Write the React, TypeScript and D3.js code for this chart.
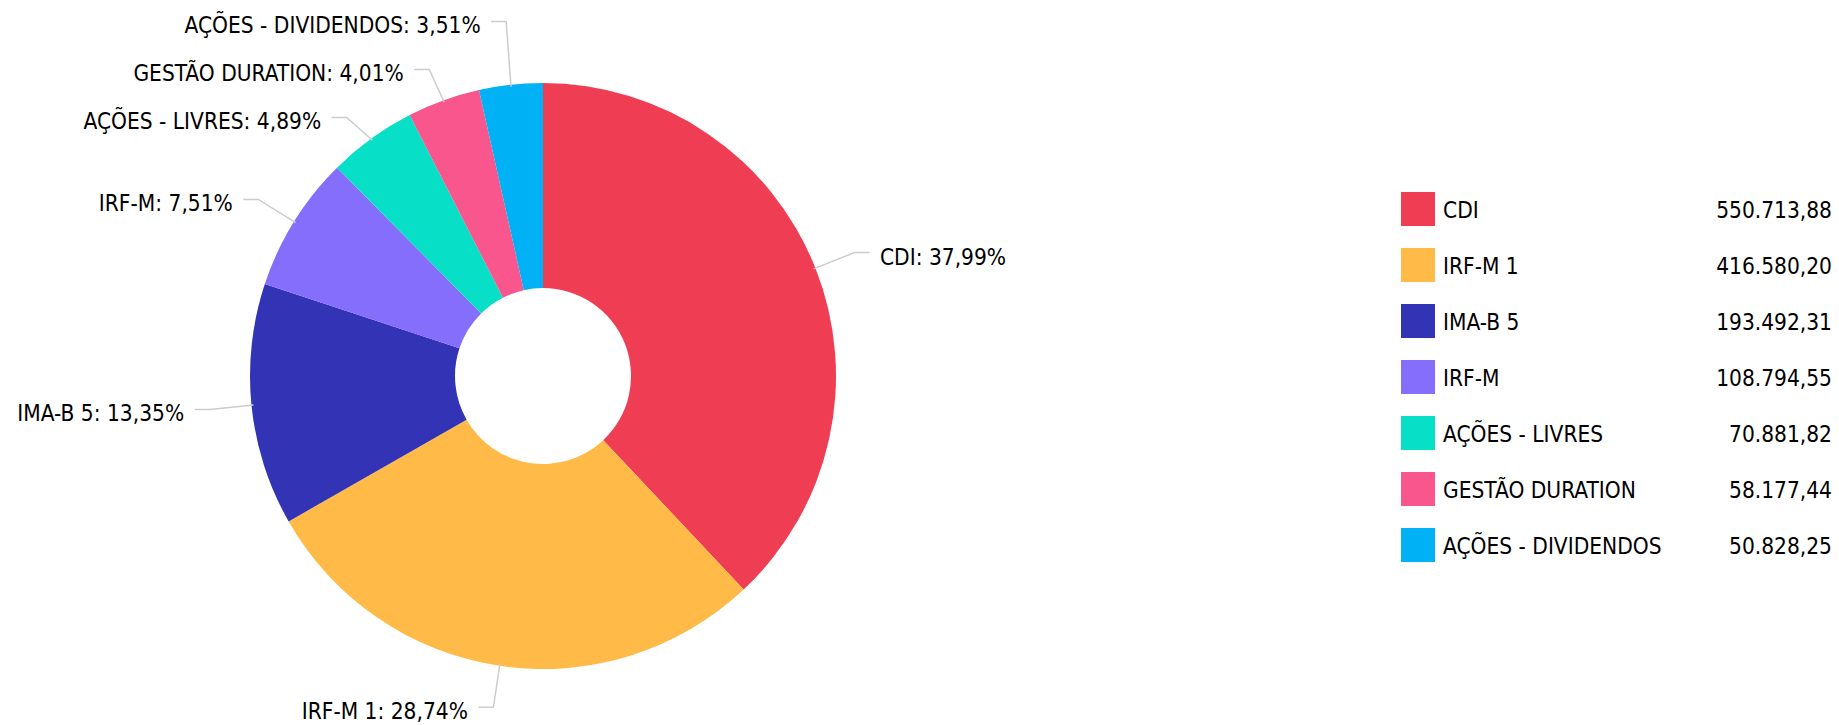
import React from 'react';
import * as d3 from 'd3';

const categories = [
  'CDI',
  'IRF-M 1',
  'IMA-B 5',
  'IRF-M',
  'AÇÕES - LIVRES',
  'GESTÃO DURATION',
  'AÇÕES - DIVIDENDOS'
];
const values = [550713.88, 416580.2, 193492.31, 108794.55, 70881.82, 58177.44, 50828.25];
const colors = ['#EF3E54', '#FFBA47', '#3333B5', '#846EFB', '#08DFC7', '#F8568C', '#00B1F5'];

const WIDTH = 1839;
const HEIGHT = 725;
const FONT = "'DejaVu Sans Condensed', 'DejaVu Sans', sans-serif";
const FONT_SIZE = 22.5;

const cx = 543;
const cy = 376;
const outerR = 293;
const innerR = 88;
const labelR = 335; // onde fica o cotovelo do conector
const labelGap = 48; // espaço mínimo entre rótulos

const ptBR = (v: number, digits: number) =>
  v.toLocaleString('pt-BR', { minimumFractionDigits: digits, maximumFractionDigits: digits });

interface LabelPos {
  i: number;
  angle: number;
  side: number;
  y: number;
}

// empurra rótulos sobrepostos (por lado) mantendo o centro do grupo
const spread = (items: LabelPos[]) => {
  const sorted = [...items].sort((a, b) => a.y - b.y);
  let groups: { items: LabelPos[]; ideal: number[] }[] = sorted.map(d => ({ items: [d], ideal: [d.y] }));
  const place = (g: { items: LabelPos[]; ideal: number[] }) => {
    const mean = d3.mean(g.ideal) || 0;
    const n = g.items.length;
    g.items.forEach((d, k) => {
      d.y = mean + (k - (n - 1) / 2) * labelGap;
    });
  };
  let changed = true;
  while (changed) {
    changed = false;
    for (let k = 0; k < groups.length - 1; k++) {
      const a = groups[k];
      const b = groups[k + 1];
      const lastA = a.items[a.items.length - 1].y;
      const firstB = b.items[0].y;
      if (firstB - lastA < labelGap) {
        const merged = { items: [...a.items, ...b.items], ideal: [...a.ideal, ...b.ideal] };
        place(merged);
        groups = [...groups.slice(0, k), merged, ...groups.slice(k + 2)];
        changed = true;
        break;
      }
    }
  }
};

export default function App() {
  const total = d3.sum(values);
  const pie = d3
    .pie<number>()
    .sort(null)
    .value(d => d);
  const arcs = pie(values);
  const arc = d3
    .arc<d3.PieArcDatum<number>>()
    .innerRadius(innerR)
    .outerRadius(outerR);

  const labels: LabelPos[] = arcs.map((a, i) => {
    const angle = (a.startAngle + a.endAngle) / 2;
    return { i, angle, side: Math.sin(angle) >= 0 ? 1 : -1, y: cy - labelR * Math.cos(angle) };
  });
  spread(labels.filter(d => d.side > 0));
  spread(labels.filter(d => d.side < 0));

  const legendY = d3
    .scaleBand()
    .domain(categories)
    .range([178, 178 + 56 * categories.length])
    .paddingInner(0);

  return (
    <svg
      width={WIDTH}
      height={HEIGHT}
      style={{ position: 'absolute', left: 0, top: 0, background: '#fff' }}
      fontFamily={FONT}
    >
      {/* fatias */}
      <g transform={`translate(${cx},${cy})`}>
        {arcs.map((a, i) => (
          <path key={i} d={arc(a) || ''} fill={colors[i]} />
        ))}
      </g>

      {/* rótulos com conectores */}
      <g>
        {labels.map(l => {
          const ex = cx + labelR * Math.sin(l.angle);
          const ey = l.y;
          const px = cx + (outerR - 2) * Math.sin(l.angle);
          const py = cy - (outerR - 2) * Math.cos(l.angle);
          const hx = ex + l.side * 15;
          const tx = hx + l.side * 10.5;
          const pct = (values[l.i] / total) * 100;
          return (
            <g key={l.i}>
              <path
                d={`M${hx},${ey}L${ex},${ey}L${px},${py}`}
                fill="none"
                stroke="#cccccc"
                strokeWidth={1.5}
              />
              <text
                x={tx}
                y={ey + 4}
                dominantBaseline="central"
                textAnchor={l.side > 0 ? 'start' : 'end'}
                fontSize={FONT_SIZE}
                fill="#000"
              >
                {`${categories[l.i]}: ${ptBR(pct, 2)}%`}
              </text>
            </g>
          );
        })}
      </g>

      {/* legenda */}
      <g>
        {categories.map((c, i) => {
          const y0 = (legendY(c) || 0) + 14;
          return (
            <g key={c}>
              <rect x={1401} y={y0} width={34} height={34} fill={colors[i]} />
              <text x={1443} y={y0 + 18} dominantBaseline="central" fontSize={FONT_SIZE} fill="#000">
                {c}
              </text>
              <text
                x={1832}
                y={y0 + 18}
                dominantBaseline="central"
                textAnchor="end"
                fontSize={FONT_SIZE}
                fill="#000"
              >
                {ptBR(values[i], 2)}
              </text>
            </g>
          );
        })}
      </g>
    </svg>
  );
}
